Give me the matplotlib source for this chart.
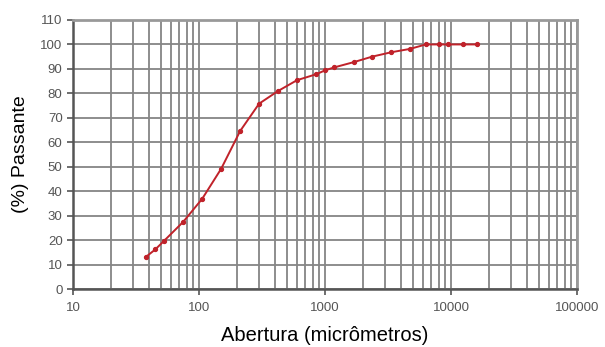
import numpy as np
import matplotlib.pyplot as plt
from matplotlib.ticker import LogLocator, FixedLocator, NullFormatter

# Abertura das peneiras (micrômetros) e % passante
abertura = [38, 45, 53, 75, 106, 150, 212, 300, 425, 600, 850, 1000, 1180,
            1700, 2360, 3350, 4750, 6300, 8000, 9500, 12500, 16000]
passante = [13.2, 16.2, 19.8, 27.5, 36.9, 49.2, 64.6, 75.8, 81.0, 85.4, 87.8,
            89.4, 90.6, 92.8, 95.0, 96.8, 98.2, 100, 100, 100, 100, 100]

x_ticks = [10, 100, 1000, 10000, 100000]
x_labels = ['10', '100', '1000', '10000', '100000']
y_ticks = list(range(0, 111, 10))


def main():
    plt.rcParams['font.family'] = ['Liberation Sans', 'DejaVu Sans']
    fig = plt.figure(figsize=(6.05, 3.47), dpi=100)
    ax = fig.add_axes([0.1207, 0.167, 0.833, 0.7754])

    ax.plot(abertura, passante, color='#c0222a', lw=1.4, marker='o',
            markersize=2.8, zorder=3)

    ax.set_xscale('log')
    ax.set_xlim(10, 100000)
    ax.set_ylim(0, 110)

    ax.xaxis.set_major_locator(FixedLocator(x_ticks))
    ax.set_xticklabels(x_labels)
    ax.xaxis.set_minor_locator(LogLocator(base=10, subs=np.arange(2, 10)))
    ax.xaxis.set_minor_formatter(NullFormatter())
    ax.set_yticks(y_ticks)

    grid_col = '#858585'
    ax.grid(True, which='major', axis='both', color=grid_col, lw=1.3)
    ax.grid(True, which='minor', axis='x', color=grid_col, lw=1.3)
    ax.set_axisbelow(True)

    for s in ['top', 'right']:
        ax.spines[s].set_color('#999999')
        ax.spines[s].set_linewidth(2)
    for s in ['left', 'bottom']:
        ax.spines[s].set_color('#555555')
        ax.spines[s].set_linewidth(1.8)

    ax.tick_params(axis='both', which='major', labelcolor='#555555',
                   color='#555555', length=4, width=1.2, labelsize=9.5)
    ax.tick_params(axis='x', which='major', pad=5)
    ax.tick_params(axis='x', which='minor', length=0)

    ax.set_xlabel('Abertura (micrômetros)', fontsize=14.5, labelpad=9)
    ax.set_ylabel('(%) Passante', fontsize=14, labelpad=8)

    fig.savefig('out.png', dpi=100)


if __name__ == "__main__":
    main()
